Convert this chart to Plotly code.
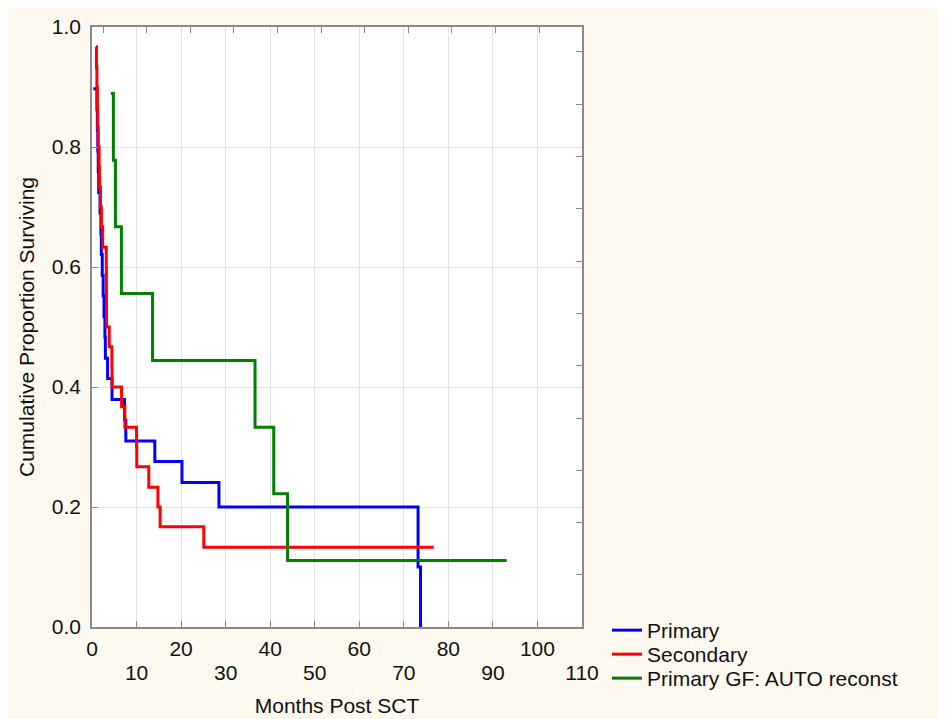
import plotly.graph_objects as go

# ---- data ----
primary_t = [0.3, 1.1, 1.2, 1.3, 1.4, 1.5, 1.8, 2.0, 2.1, 2.3, 2.5, 2.7, 2.9, 3.0, 3.5, 4.5,
             7.3, 7.6, 14.1, 20.2, 28.5, 73.2, 73.75]
primary_s = [0.897, 0.862, 0.828, 0.793, 0.759, 0.724, 0.690, 0.655, 0.621, 0.586, 0.552,
             0.517, 0.483, 0.448, 0.414, 0.379, 0.345, 0.310, 0.276, 0.241, 0.200, 0.100, 0.0]

secondary_t = [0.9, 1.0, 1.1, 1.2, 1.3, 1.4, 1.6, 1.7, 1.9, 2.1, 2.4, 3.2, 3.22, 3.24, 3.26,
               3.87, 4.47, 4.5, 6.64, 7.38, 10.0, 10.05, 12.75, 14.8, 15.3, 25.1, 76.7]
secondary_s = [0.967, 0.933, 0.900, 0.867, 0.833, 0.800, 0.767, 0.733, 0.700, 0.667, 0.633,
               0.600, 0.567, 0.533, 0.500, 0.467, 0.433, 0.400, 0.367, 0.333, 0.300, 0.267,
               0.233, 0.200, 0.167, 0.133, 0.133]

auto_t = [4.25, 4.8, 5.26, 6.6, 13.6, 36.6, 40.8, 43.9, 93.1]
auto_s = [0.889, 0.778, 0.667, 0.556, 0.444, 0.333, 0.222, 0.111, 0.111]

x_ticks = [0, 10, 20, 30, 40, 50, 60, 70, 80, 90, 100, 110]
x_upper_text = ["0", "", "20", "", "40", "", "60", "", "80", "", "100", ""]
x_lower_ticks = [10, 30, 50, 70, 90, 110]
x_lower_text = ["10", "30", "50", "70", "90", "110"]
y_ticks = [0.0, 0.2, 0.4, 0.6, 0.8, 1.0]
y_ticktext = ["0.0", "0.2", "0.4", "0.6", "0.8", "1.0"]

series = [
    ("Primary", primary_t, primary_s, "#0000ff", "legend"),
    ("Secondary", secondary_t, secondary_s, "#ff0000", "legend2"),
    ("Primary GF: AUTO reconst", auto_t, auto_s, "#008000", "legend3"),
]

FONT = "Arial, Liberation Sans, sans-serif"
FS = 21
W, H = 945, 719
L, R, T, B = 84, 574, 19, 619
TXT = "#111111"
AX = "#8a8a8a"

fig = go.Figure()
for name, t, s, c, lg in series:
    fig.add_trace(go.Scatter(x=t, y=s, mode="lines", name=name, legend=lg,
                             line=dict(color=c, width=3, shape="hv")))

# invisible traces carrying the extra axes (staggered labels, top/right ticks)
fig.add_trace(go.Scatter(x=[None], y=[None], xaxis="x3", yaxis="y",
                         showlegend=False, hoverinfo="skip"))
fig.add_trace(go.Scatter(x=[None], y=[None], xaxis="x2", yaxis="y2",
                         showlegend=False, hoverinfo="skip"))

top_ticks = [2.47 + 9.79 * k for k in range(11)]
right_ticks = [0.0867 + 0.0872 * k for k in range(11)]

tickfont = dict(family=FONT, size=FS, color=TXT)

legend_common = dict(xanchor="left", yanchor="top", bgcolor="rgba(0,0,0,0)",
                     font=dict(family=FONT, size=FS, color=TXT), itemwidth=30)
lx = (599 - L) / (R - L)

fig.update_layout(
    width=W, height=H,
    margin=dict(l=L, r=W - R, t=T, b=H - B, pad=0, autoexpand=False),
    paper_bgcolor="#fdf9ef",
    plot_bgcolor="#ffffff",
    font=dict(family=FONT, size=FS, color=TXT),
    xaxis=dict(range=[0, 110], tickvals=x_ticks, ticktext=x_upper_text, automargin=False,
               mirror=True, ticklabelstandoff=2, showline=True, linecolor=AX, linewidth=1.5,
               ticks="inside", ticklen=6, tickcolor=AX, gridcolor="#e2e2e2", zeroline=False,
               tickfont=tickfont),
    xaxis3=dict(overlaying="x", side="bottom", anchor="y", range=[0, 110], automargin=False,
                tickvals=x_lower_ticks, ticktext=x_lower_text, ticklabelstandoff=31,
                showgrid=False, showline=False, zeroline=False, ticks="",
                tickfont=tickfont,
                title=dict(text="Months Post SCT", font=dict(size=FS, color=TXT), standoff=15)),
    yaxis=dict(range=[0, 1], tickvals=y_ticks, ticktext=y_ticktext, automargin=False,
               mirror=True, ticklabelstandoff=5, showline=True, linecolor=AX, linewidth=1.5,
               ticks="inside", ticklen=6, tickcolor=AX, gridcolor="#e2e2e2", zeroline=False,
               tickfont=tickfont,
               title=dict(text="Cumulative Proportion Surviving",
                          font=dict(size=FS, color=TXT), standoff=11)),
    xaxis2=dict(overlaying="x", side="top", range=[0, 110], tickvals=top_ticks, automargin=False,
                showticklabels=False, showgrid=False, showline=False, zeroline=False,
                ticks="inside", ticklen=6, tickcolor=AX),
    yaxis2=dict(overlaying="y", side="right", range=[0, 1], tickvals=right_ticks, automargin=False,
                showticklabels=False, showgrid=False, showline=False, zeroline=False,
                ticks="inside", ticklen=6, tickcolor=AX),
    legend=dict(x=lx, y=(B - 602) / (B - T), **legend_common),
    legend2=dict(x=lx, y=(B - 626) / (B - T), **legend_common),
    legend3=dict(x=lx, y=(B - 650) / (B - T), **legend_common),
)

fig.write_html("out.html")
